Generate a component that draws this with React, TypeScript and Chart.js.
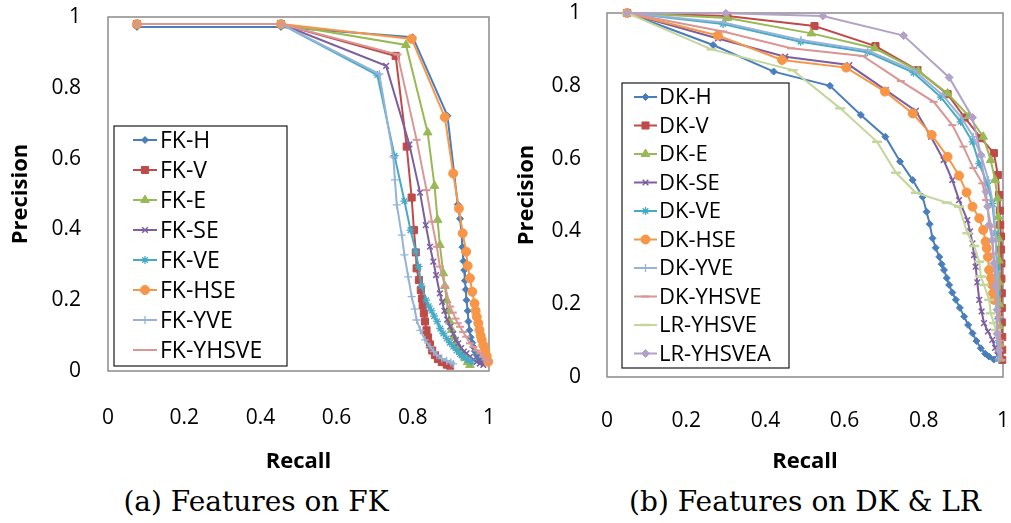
import React, { useEffect, useRef } from 'react';
import { Chart, registerables } from 'chart.js';

Chart.register(...registerables);

type Pt = [number, number];

const TICK_VALUES = [0, 0.2, 0.4, 0.6, 0.8, 1];
const TICK_LABELS = ['0', '0.2', '0.4', '0.6', '0.8', '1'];
const X_TITLE = 'Recall';
const Y_TITLE = 'Precision';
const CAPTION_A = '(a) Features on FK';
const CAPTION_B = '(b) Features on DK & LR';

// ---------- (a) Features on FK : [recall, precision] ----------
const FK_NAMES = ['FK-H', 'FK-V', 'FK-E', 'FK-SE', 'FK-VE', 'FK-HSE', 'FK-YVE', 'FK-YHSVE'];

const FK_H: Pt[] = [
  [0.076, 0.972], [0.454, 0.972], [0.8, 0.943], [0.891, 0.721], [0.918, 0.47], [0.924, 0.43],
  [0.928, 0.39], [0.93, 0.35], [0.933, 0.31], [0.935, 0.285], [0.937, 0.255], [0.939, 0.23],
  [0.941, 0.2], [0.944, 0.17], [0.946, 0.14], [0.949, 0.115], [0.952, 0.095], [0.956, 0.08],
  [0.959, 0.068], [0.963, 0.056], [0.968, 0.045], [0.974, 0.035], [0.981, 0.026],
];
const FK_V: Pt[] = [
  [0.076, 0.98], [0.454, 0.98], [0.755, 0.89], [0.784, 0.634], [0.797, 0.49], [0.803, 0.398],
  [0.808, 0.335], [0.81, 0.29], [0.816, 0.257], [0.821, 0.229], [0.824, 0.205], [0.826, 0.185],
  [0.829, 0.163], [0.832, 0.14], [0.836, 0.115], [0.84, 0.095], [0.845, 0.075], [0.851, 0.058],
  [0.858, 0.045], [0.866, 0.034], [0.876, 0.025], [0.889, 0.018], [0.898, 0.015],
];
const FK_E: Pt[] = [
  [0.076, 0.98], [0.454, 0.98], [0.782, 0.921], [0.839, 0.674], [0.857, 0.523], [0.865, 0.427],
  [0.871, 0.356], [0.88, 0.276], [0.884, 0.24], [0.889, 0.2], [0.893, 0.17], [0.897, 0.14],
  [0.902, 0.116], [0.908, 0.095], [0.914, 0.08], [0.919, 0.069], [0.926, 0.055], [0.932, 0.044],
  [0.937, 0.036], [0.944, 0.025], [0.95, 0.017],
];
const FK_SE: Pt[] = [
  [0.076, 0.98], [0.454, 0.98], [0.73, 0.862], [0.791, 0.64], [0.819, 0.504], [0.834, 0.412],
  [0.845, 0.351], [0.854, 0.309], [0.861, 0.271], [0.871, 0.219], [0.877, 0.195], [0.883, 0.17],
  [0.89, 0.145], [0.898, 0.125], [0.906, 0.105], [0.913, 0.088], [0.919, 0.078], [0.927, 0.065],
  [0.934, 0.055], [0.941, 0.05], [0.95, 0.04], [0.959, 0.032], [0.968, 0.026], [0.976, 0.021],
  [0.985, 0.017],
];
const FK_VE: Pt[] = [
  [0.076, 0.98], [0.454, 0.98], [0.707, 0.836], [0.752, 0.608], [0.778, 0.48], [0.794, 0.398],
  [0.808, 0.337], [0.815, 0.295], [0.823, 0.24], [0.835, 0.2], [0.842, 0.183], [0.849, 0.17],
  [0.856, 0.155], [0.864, 0.14], [0.872, 0.12], [0.88, 0.106], [0.889, 0.092], [0.897, 0.08],
  [0.906, 0.069], [0.915, 0.058], [0.924, 0.048], [0.933, 0.04], [0.943, 0.032], [0.954, 0.026],
];
const FK_HSE: Pt[] = [
  [0.076, 0.98], [0.454, 0.98], [0.797, 0.938], [0.884, 0.717], [0.906, 0.558], [0.921, 0.459],
  [0.931, 0.389], [0.94, 0.337], [0.944, 0.297], [0.95, 0.262], [0.956, 0.224], [0.962, 0.191],
  [0.965, 0.17], [0.968, 0.153], [0.972, 0.135], [0.975, 0.116], [0.978, 0.1], [0.981, 0.088],
  [0.985, 0.073], [0.99, 0.059], [0.994, 0.042], [0.998, 0.026],
];
const FK_YVE: Pt[] = [
  [0.076, 0.98], [0.454, 0.98], [0.712, 0.839], [0.749, 0.605], [0.753, 0.54], [0.758, 0.469],
  [0.771, 0.384], [0.778, 0.328], [0.788, 0.266], [0.797, 0.21], [0.805, 0.175], [0.81, 0.144],
  [0.82, 0.115], [0.832, 0.088], [0.845, 0.069], [0.855, 0.055], [0.863, 0.045], [0.876, 0.035],
  [0.889, 0.029], [0.9, 0.024], [0.906, 0.02],
];
const FK_YHSVE: Pt[] = [
  [0.076, 0.98], [0.454, 0.98], [0.76, 0.894], [0.81, 0.653], [0.836, 0.511], [0.85, 0.422],
  [0.863, 0.351], [0.871, 0.295], [0.885, 0.238], [0.898, 0.182], [0.905, 0.165], [0.912, 0.148],
  [0.918, 0.135], [0.924, 0.125], [0.932, 0.11], [0.94, 0.097], [0.95, 0.078], [0.959, 0.068],
  [0.968, 0.058], [0.976, 0.05], [0.984, 0.04], [0.991, 0.032], [0.998, 0.026],
];

// ---------- (b) Features on DK & LR : [recall, precision] ----------
const DK_NAMES = ['DK-H', 'DK-V', 'DK-E', 'DK-SE', 'DK-VE', 'DK-HSE', 'DK-YVE', 'DK-YHSVE', 'LR-YHSVE', 'LR-YHSVEA'];

const DK_H: Pt[] = [
  [0.051, 1], [0.268, 0.912], [0.421, 0.839], [0.563, 0.8], [0.641, 0.72], [0.703, 0.66],
  [0.74, 0.592], [0.772, 0.541], [0.797, 0.495], [0.807, 0.454], [0.815, 0.42], [0.822, 0.381],
  [0.83, 0.355], [0.839, 0.33], [0.845, 0.31], [0.851, 0.294], [0.858, 0.272], [0.864, 0.253],
  [0.872, 0.232], [0.881, 0.212], [0.891, 0.19], [0.902, 0.166], [0.912, 0.143], [0.923, 0.12],
  [0.933, 0.099], [0.944, 0.079], [0.955, 0.064], [0.965, 0.056], [0.977, 0.048],
];
const DK_V: Pt[] = [
  [0.051, 1], [0.304, 0.992], [0.524, 0.964], [0.678, 0.909], [0.784, 0.843], [0.86, 0.777],
  [0.903, 0.713], [0.944, 0.656], [0.977, 0.615], [0.987, 0.555], [0.99, 0.5], [0.992, 0.457],
  [0.993, 0.418], [0.995, 0.386], [0.995, 0.35], [0.996, 0.312], [0.996, 0.27], [0.997, 0.23],
  [0.997, 0.19], [0.997, 0.15], [0.998, 0.11], [0.998, 0.075], [0.998, 0.047],
];
const DK_E: Pt[] = [
  [0.051, 1], [0.304, 0.986], [0.516, 0.944], [0.676, 0.903], [0.786, 0.841], [0.86, 0.779],
  [0.914, 0.717], [0.95, 0.66], [0.969, 0.596], [0.98, 0.541], [0.986, 0.491], [0.988, 0.44],
  [0.989, 0.38], [0.99, 0.32], [0.99, 0.26], [0.991, 0.2], [0.991, 0.14], [0.992, 0.09], [0.992, 0.05],
];
const DK_SE: Pt[] = [
  [0.051, 1], [0.28, 0.93], [0.45, 0.88], [0.612, 0.857], [0.704, 0.788], [0.78, 0.731],
  [0.818, 0.66], [0.85, 0.596], [0.872, 0.541], [0.889, 0.486], [0.91, 0.431], [0.917, 0.4],
  [0.923, 0.367], [0.927, 0.335], [0.931, 0.303], [0.935, 0.26], [0.94, 0.212], [0.946, 0.18],
  [0.952, 0.148], [0.962, 0.125], [0.973, 0.102], [0.98, 0.08], [0.986, 0.06],
];
const DK_VE: Pt[] = [
  [0.051, 1], [0.293, 0.97], [0.489, 0.921], [0.658, 0.892], [0.774, 0.836], [0.843, 0.769],
  [0.893, 0.701], [0.923, 0.646], [0.94, 0.586], [0.96, 0.532], [0.973, 0.477], [0.981, 0.395],
  [0.985, 0.303], [0.987, 0.23], [0.988, 0.16], [0.989, 0.1], [0.99, 0.05],
];
const DK_HSE: Pt[] = [
  [0.051, 1], [0.28, 0.938], [0.442, 0.871], [0.604, 0.85], [0.702, 0.784], [0.772, 0.724],
  [0.82, 0.665], [0.86, 0.605], [0.889, 0.553], [0.908, 0.507], [0.923, 0.468], [0.94, 0.436],
  [0.95, 0.404], [0.956, 0.372], [0.959, 0.354], [0.962, 0.33], [0.965, 0.294], [0.97, 0.272],
  [0.973, 0.253], [0.975, 0.23], [0.977, 0.212],
];
const DK_YVE: Pt[] = [
  [0.051, 1], [0.293, 0.974], [0.49, 0.926], [0.658, 0.897], [0.776, 0.842], [0.847, 0.775],
  [0.896, 0.711], [0.925, 0.66], [0.946, 0.605], [0.963, 0.541], [0.976, 0.468], [0.982, 0.376],
  [0.985, 0.29], [0.987, 0.2], [0.988, 0.12], [0.989, 0.05],
];
const DK_YHSVE: Pt[] = [
  [0.051, 1], [0.293, 0.949], [0.465, 0.903], [0.646, 0.882], [0.742, 0.813], [0.825, 0.756],
  [0.872, 0.692], [0.9, 0.633], [0.925, 0.574], [0.948, 0.532], [0.957, 0.486], [0.97, 0.413],
  [0.976, 0.339], [0.982, 0.257], [0.989, 0.165], [0.993, 0.1], [0.996, 0.047],
];
const LR_YHSVE: Pt[] = [
  [0.051, 1], [0.264, 0.9], [0.469, 0.843], [0.589, 0.738], [0.682, 0.646], [0.73, 0.561],
  [0.78, 0.506], [0.858, 0.479], [0.889, 0.468], [0.91, 0.395], [0.927, 0.36], [0.94, 0.317],
  [0.944, 0.276], [0.952, 0.253], [0.965, 0.212], [0.969, 0.175], [0.977, 0.148], [0.982, 0.129],
];
const LR_YHSVEA: Pt[] = [
  [0.051, 1], [0.3, 0.999], [0.545, 0.992], [0.749, 0.938], [0.864, 0.823], [0.923, 0.713],
  [0.944, 0.61], [0.957, 0.509], [0.961, 0.468], [0.965, 0.418], [0.973, 0.376], [0.977, 0.312],
  [0.981, 0.249], [0.985, 0.185], [0.985, 0.119], [0.99, 0.073],
];

const FK_SERIES = [FK_H, FK_V, FK_E, FK_SE, FK_VE, FK_HSE, FK_YVE, FK_YHSVE];
const DK_SERIES = [DK_H, DK_V, DK_E, DK_SE, DK_VE, DK_HSE, DK_YVE, DK_YHSVE, LR_YHSVE, LR_YHSVEA];

// ---------- styles ----------
type Sty = { color: string; marker: string; r: number; bw: number };
const STYLES: Sty[] = [
  { color: '#4A7EBB', marker: 'rectRot', r: 3.5, bw: 1 },
  { color: '#BE4B48', marker: 'rect', r: 5, bw: 1 },
  { color: '#98B954', marker: 'triangle', r: 5, bw: 1 },
  { color: '#7D5FA0', marker: 'crossRot', r: 4, bw: 1.5 },
  { color: '#46AAC5', marker: 'star', r: 4, bw: 1.3 },
  { color: '#F79646', marker: 'circle', r: 4.5, bw: 1 },
  { color: '#95B3D7', marker: 'cross', r: 4, bw: 1.3 },
  { color: '#D99694', marker: 'line', r: 4, bw: 2 },
  { color: '#C3D69B', marker: 'line', r: 5, bw: 2.5 },
  { color: '#B3A2C7', marker: 'rectRot', r: 4, bw: 1 },
];

const SANS = '"Open Sans", "DejaVu Sans", sans-serif';

function drawMarker(ctx: CanvasRenderingContext2D, s: Sty, x: number, y: number) {
  const r = s.r;
  ctx.save();
  ctx.fillStyle = s.color;
  ctx.strokeStyle = s.color;
  ctx.lineWidth = s.bw;
  ctx.beginPath();
  const c = Math.SQRT1_2 * r;
  let fill = true;
  switch (s.marker) {
    case 'circle':
      ctx.arc(x, y, r, 0, Math.PI * 2);
      break;
    case 'rect':
      ctx.rect(x - c, y - c, 2 * c, 2 * c);
      break;
    case 'rectRot':
      ctx.moveTo(x, y - r); ctx.lineTo(x + r, y); ctx.lineTo(x, y + r); ctx.lineTo(x - r, y); ctx.closePath();
      break;
    case 'triangle': {
      let a = 0;
      ctx.moveTo(x + Math.sin(a) * r, y - Math.cos(a) * r);
      a += (2 * Math.PI) / 3;
      ctx.lineTo(x + Math.sin(a) * r, y - Math.cos(a) * r);
      a += (2 * Math.PI) / 3;
      ctx.lineTo(x + Math.sin(a) * r, y - Math.cos(a) * r);
      ctx.closePath();
      break;
    }
    case 'crossRot':
      fill = false;
      ctx.moveTo(x - c, y - c); ctx.lineTo(x + c, y + c);
      ctx.moveTo(x + c, y - c); ctx.lineTo(x - c, y + c);
      break;
    case 'cross':
      fill = false;
      ctx.moveTo(x, y - r); ctx.lineTo(x, y + r);
      ctx.moveTo(x - r, y); ctx.lineTo(x + r, y);
      break;
    case 'star':
      fill = false;
      ctx.moveTo(x, y - r); ctx.lineTo(x, y + r);
      ctx.moveTo(x - r, y); ctx.lineTo(x + r, y);
      ctx.moveTo(x - c, y - c); ctx.lineTo(x + c, y + c);
      ctx.moveTo(x + c, y - c); ctx.lineTo(x - c, y + c);
      break;
    case 'line':
      fill = false;
      ctx.moveTo(x - r, y); ctx.lineTo(x + r, y);
      break;
  }
  if (fill) ctx.fill();
  ctx.stroke();
  ctx.restore();
}

const framePlugin = {
  id: 'frameLegend',
  beforeDatasetsDraw(chart: any) {
    const { ctx, chartArea: a } = chart;
    ctx.save();
    ctx.strokeStyle = '#8a8a8a';
    ctx.lineWidth = 1.5;
    ctx.strokeRect(a.left, a.top, a.right - a.left, a.bottom - a.top);
    ctx.restore();
  },
  afterDatasetsDraw(chart: any, _args: any, opts: any) {
    if (!opts || !opts.names) return;
    const { ctx } = chart;
    ctx.save();
    ctx.fillStyle = '#ffffff';
    ctx.fillRect(opts.x, opts.y, opts.w, opts.h);
    ctx.strokeStyle = '#1a1a1a';
    ctx.lineWidth = 1.2;
    ctx.strokeRect(opts.x, opts.y, opts.w, opts.h);
    opts.names.forEach((name: string, i: number) => {
      const cy = opts.firstY + i * opts.rowH;
      const s: Sty = STYLES[i];
      ctx.strokeStyle = s.color;
      ctx.lineWidth = 2;
      ctx.beginPath();
      ctx.moveTo(opts.lineX0, cy);
      ctx.lineTo(opts.lineX1, cy);
      ctx.stroke();
      drawMarker(ctx, s, (opts.lineX0 + opts.lineX1) / 2, cy);
      ctx.fillStyle = '#000';
      ctx.font = `${opts.fontSize}px ${SANS}`;
      ctx.textBaseline = 'middle';
      ctx.textAlign = 'left';
      ctx.fillText(name, opts.textX, cy + 1);
    });
    ctx.restore();
  },
};

function buildDatasets(names: string[], series: Pt[][]) {
  return names.map((name, i) => {
    const s = STYLES[i];
    return {
      label: name,
      data: series[i].map(([x, y]) => ({ x, y })),
      borderColor: s.color,
      backgroundColor: s.color,
      borderWidth: 2,
      pointStyle: s.marker,
      pointRadius: s.r,
      pointBorderWidth: s.bw,
      pointBackgroundColor: s.color,
      pointBorderColor: s.color,
      tension: 0,
      clip: 10,
      order: names.length - 1 - i,
    };
  });
}

type Cfg = {
  padTop: number; padRight: number; yW: number; xH: number;
  yTickPad: number; xTickPad: number; yTitlePad: number; xTitlePad: number;
  legend: any;
};

function zeroPad(s: any) {
  s.paddingTop = 0;
  s.paddingBottom = 0;
  s.paddingLeft = 0;
  s.paddingRight = 0;
}

function makeConfig(names: string[], series: Pt[][], cfg: Cfg): any {
  const tickFont = { family: SANS, size: 21 };
  const titleFont = { family: SANS, size: 22, weight: 'bold' as const };
  return {
    type: 'line',
    data: { datasets: buildDatasets(names, series) },
    options: {
      responsive: false,
      maintainAspectRatio: false,
      animation: false,
      events: [],
      layout: { autoPadding: false, padding: { left: 0, top: cfg.padTop, right: cfg.padRight, bottom: 0 } },
      plugins: {
        legend: { display: false },
        tooltip: { enabled: false },
        frameLegend: cfg.legend,
      },
      scales: {
        x: {
          type: 'linear', min: 0, max: 1,
          grid: { display: false, drawTicks: false },
          border: { display: false },
          afterBuildTicks: (s: any) => { s.ticks = TICK_VALUES.map((v) => ({ value: v })); },
          afterFit: (s: any) => { s.height = cfg.xH; zeroPad(s); },
          ticks: {
            padding: cfg.xTickPad, font: tickFont, color: '#000', maxRotation: 0, autoSkip: false,
            callback: (_v: any, i: number) => TICK_LABELS[i],
          },
          title: { display: true, text: X_TITLE, font: titleFont, color: '#000', padding: { top: 0, bottom: cfg.xTitlePad } },
        },
        y: {
          type: 'linear', min: 0, max: 1,
          grid: { display: false, drawTicks: false },
          border: { display: false },
          afterBuildTicks: (s: any) => { s.ticks = TICK_VALUES.map((v) => ({ value: v })); },
          afterFit: (s: any) => { s.width = cfg.yW; zeroPad(s); },
          ticks: {
            padding: cfg.yTickPad, font: tickFont, color: '#000', autoSkip: false,
            callback: (_v: any, i: number) => TICK_LABELS[i],
          },
          title: { display: true, text: Y_TITLE, font: titleFont, color: '#000', padding: { top: cfg.yTitlePad, bottom: 0 } },
        },
      },
    },
    plugins: [framePlugin],
  };
}

const CFG_A: Cfg = {
  padTop: 17, padRight: 16, yW: 108, xH: 109, yTickPad: 27, xTickPad: 34, yTitlePad: 8, xTitlePad: 5,
  legend: { names: FK_NAMES, x: 114, y: 126, w: 173, h: 240, firstY: 140, rowH: 30, lineX0: 133, lineX1: 157, textX: 160, fontSize: 23 },
};
const CFG_B: Cfg = {
  padTop: 13, padRight: 8, yW: 102, xH: 103, yTickPad: 26, xTickPad: 31, yTitlePad: 9, xTitlePad: 5,
  legend: { names: DK_NAMES, x: 117, y: 83, w: 167, h: 285, firstY: 97, rowH: 28.5, lineX0: 129, lineX1: 152, textX: 154, fontSize: 22 },
};

function Panel({ names, series, cfg, left, width }: { names: string[]; series: Pt[][]; cfg: Cfg; left: number; width: number }) {
  const ref = useRef<HTMLCanvasElement | null>(null);
  useEffect(() => {
    if (!ref.current) return;
    const chart = new Chart(ref.current, makeConfig(names, series, cfg));
    const fonts: any = (document as any).fonts;
    if (fonts && fonts.load) {
      Promise.all([fonts.load(`21px "Open Sans"`), fonts.load(`bold 22px "Open Sans"`)])
        .then(() => chart.update())
        .catch(() => {});
    }
    return () => chart.destroy();
  }, []);
  return (
    <canvas
      ref={ref}
      width={width}
      height={480}
      style={{ position: 'absolute', left, top: 0, width, height: 480 }}
    />
  );
}

export default function App() {
  const capStyle: React.CSSProperties = {
    position: 'absolute',
    top: 484,
    width: 400,
    textAlign: 'center',
    fontFamily: '"DejaVu Serif", serif',
    fontSize: 28,
    lineHeight: '36px',
    color: '#000',
    whiteSpace: 'nowrap',
  };
  return (
    <div style={{ position: 'absolute', left: 0, top: 0, width: 1011, height: 523, background: '#fff', overflow: 'hidden' }}>
      <Panel names={FK_NAMES} series={FK_SERIES} cfg={CFG_A} left={0} width={505} />
      <Panel names={DK_NAMES} series={DK_SERIES} cfg={CFG_B} left={505} width={506} />
      <div style={{ ...capStyle, left: 56 }}>{CAPTION_A}</div>
      <div style={{ ...capStyle, left: 605 }}>{CAPTION_B}</div>
    </div>
  );
}
